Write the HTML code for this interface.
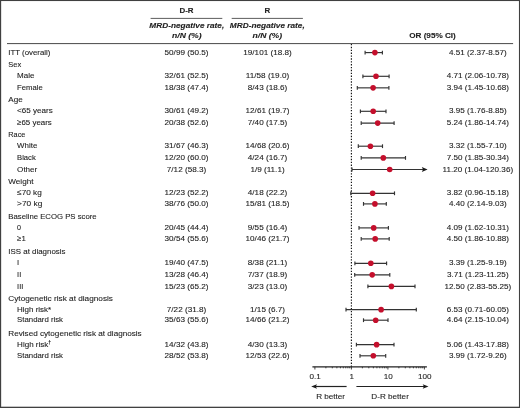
<!DOCTYPE html>
<html><head><meta charset="utf-8"><title>Forest plot</title>
<style>
html,body{margin:0;padding:0;background:#fff;}
body{width:520px;height:408px;overflow:hidden;}
svg{display:block;will-change:transform;transform:translateZ(0);}
text{font-family:"Liberation Sans",sans-serif;fill:#222;stroke:#222;stroke-width:0.1px;}
</style></head><body>
<svg width="520" height="408" viewBox="0 0 520 408">
<rect x="0" y="0" width="520" height="408" fill="#fff"/>
<g fill="#404040"><rect x="0" y="0" width="1.15" height="408"/><rect x="0" y="0" width="520" height="1.05"/><rect x="518.95" y="0" width="1.05" height="408"/><rect x="0" y="406.7" width="520" height="1.3"/></g>

<g font-weight="bold" font-size="7.5" style="stroke-width:0.2px;fill:#161616;stroke:#161616">
<text transform="translate(186.50 13.30) scale(1.06 1)" text-anchor="middle" >D-R</text>
<text transform="translate(267.30 13.30) scale(1.06 1)" text-anchor="middle" >R</text>
<text transform="translate(432.50 38.30) scale(1.09 1)" text-anchor="middle" >OR (95% CI)</text>
</g>
<g font-weight="bold" font-style="italic" font-size="7.3" style="stroke-width:0.2px;fill:#161616;stroke:#161616">
<text transform="translate(186.80 28.00) scale(1.135 1)" text-anchor="middle" >MRD-negative rate,</text>
<text transform="translate(186.80 37.60) scale(1.18 1)" text-anchor="middle" >n/N (%)</text>
<text transform="translate(267.30 28.00) scale(1.135 1)" text-anchor="middle" >MRD-negative rate,</text>
<text transform="translate(267.30 37.60) scale(1.18 1)" text-anchor="middle" >n/N (%)</text>
</g>
<g stroke="#333" stroke-width="0.8" fill="none">
<line x1="150.6" y1="18.4" x2="222.3" y2="18.4"/>
<line x1="231.7" y1="18.4" x2="302.9" y2="18.4"/>
<line x1="7" y1="43.6" x2="513.1" y2="43.6" stroke-width="0.9"/>
</g>
<line x1="351.4" y1="44" x2="351.4" y2="366.8" stroke="#111" stroke-width="1.15" stroke-dasharray="1.35,1.52"/>
<g font-size="8.1">
<text transform="translate(8.30 54.70) scale(0.97 1)" text-anchor="start" >ITT (overall)</text>
<text transform="translate(186.50 54.70) scale(1.006 1)" text-anchor="middle" >50/99 (50.5)</text>
<text transform="translate(267.50 54.70) scale(1.006 1)" text-anchor="middle" >19/101 (18.8)</text>
<text transform="translate(477.80 54.70) scale(1.002 1)" text-anchor="middle" >4.51 (2.37-8.57)</text>
<text transform="translate(8.30 66.90) scale(0.925 1)" text-anchor="start" >Sex</text>
<text transform="translate(17.10 78.40) scale(0.995 1)" text-anchor="start" >Male</text>
<text transform="translate(186.50 78.40) scale(1.006 1)" text-anchor="middle" >32/61 (52.5)</text>
<text transform="translate(267.50 78.40) scale(1.006 1)" text-anchor="middle" >11/58 (19.0)</text>
<text transform="translate(477.80 78.40) scale(1.002 1)" text-anchor="middle" >4.71 (2.06-10.78)</text>
<text transform="translate(17.10 89.95) scale(0.951 1)" text-anchor="start" >Female</text>
<text transform="translate(186.50 89.95) scale(1.006 1)" text-anchor="middle" >18/38 (47.4)</text>
<text transform="translate(267.50 89.95) scale(1.006 1)" text-anchor="middle" >8/43 (18.6)</text>
<text transform="translate(477.80 89.95) scale(1.002 1)" text-anchor="middle" >3.94 (1.45-10.68)</text>
<text transform="translate(8.30 102.00) scale(1.002 1)" text-anchor="start" >Age</text>
<text transform="translate(17.10 113.40) scale(0.997 1)" text-anchor="start" >&lt;65 years</text>
<text transform="translate(186.50 113.40) scale(1.006 1)" text-anchor="middle" >30/61 (49.2)</text>
<text transform="translate(267.50 113.40) scale(1.006 1)" text-anchor="middle" >12/61 (19.7)</text>
<text transform="translate(477.80 113.40) scale(1.002 1)" text-anchor="middle" >3.95 (1.76-8.85)</text>
<text transform="translate(17.10 125.20) scale(0.978 1)" text-anchor="start" >≥65 years</text>
<text transform="translate(186.50 125.20) scale(1.006 1)" text-anchor="middle" >20/38 (52.6)</text>
<text transform="translate(267.50 125.20) scale(1.006 1)" text-anchor="middle" >7/40 (17.5)</text>
<text transform="translate(477.80 125.20) scale(1.002 1)" text-anchor="middle" >5.24 (1.86-14.74)</text>
<text transform="translate(8.30 137.00) scale(0.902 1)" text-anchor="start" >Race</text>
<text transform="translate(17.10 148.30) scale(0.977 1)" text-anchor="start" >White</text>
<text transform="translate(186.50 148.30) scale(1.006 1)" text-anchor="middle" >31/67 (46.3)</text>
<text transform="translate(267.50 148.30) scale(1.006 1)" text-anchor="middle" >14/68 (20.6)</text>
<text transform="translate(477.80 148.30) scale(1.002 1)" text-anchor="middle" >3.32 (1.55-7.10)</text>
<text transform="translate(17.10 160.00) scale(0.94 1)" text-anchor="start" >Black</text>
<text transform="translate(186.50 160.00) scale(1.006 1)" text-anchor="middle" >12/20 (60.0)</text>
<text transform="translate(267.50 160.00) scale(1.006 1)" text-anchor="middle" >4/24 (16.7)</text>
<text transform="translate(477.80 160.00) scale(1.002 1)" text-anchor="middle" >7.50 (1.85-30.34)</text>
<text transform="translate(17.10 171.60) scale(0.998 1)" text-anchor="start" >Other</text>
<text transform="translate(186.50 171.60) scale(1.006 1)" text-anchor="middle" >7/12 (58.3)</text>
<text transform="translate(267.50 171.60) scale(1.006 1)" text-anchor="middle" >1/9 (11.1)</text>
<text transform="translate(477.80 171.60) scale(1.002 1)" text-anchor="middle" >11.20 (1.04-120.36)</text>
<text transform="translate(8.30 183.60) scale(1.007 1)" text-anchor="start" >Weight</text>
<text transform="translate(17.10 195.40) scale(1.02 1)" text-anchor="start" >≤70 kg</text>
<text transform="translate(186.50 195.40) scale(1.006 1)" text-anchor="middle" >12/23 (52.2)</text>
<text transform="translate(267.50 195.40) scale(1.006 1)" text-anchor="middle" >4/18 (22.2)</text>
<text transform="translate(477.80 195.40) scale(1.002 1)" text-anchor="middle" >3.82 (0.96-15.18)</text>
<text transform="translate(17.10 206.00) scale(1.028 1)" text-anchor="start" >&gt;70 kg</text>
<text transform="translate(186.50 206.00) scale(1.006 1)" text-anchor="middle" >38/76 (50.0)</text>
<text transform="translate(267.50 206.00) scale(1.006 1)" text-anchor="middle" >15/81 (18.5)</text>
<text transform="translate(477.80 206.00) scale(1.002 1)" text-anchor="middle" >4.40 (2.14-9.03)</text>
<text transform="translate(8.30 219.00) scale(0.958 1)" text-anchor="start" >Baseline ECOG PS score</text>
<text transform="translate(17.10 230.00) scale(0.879 1)" text-anchor="start" >0</text>
<text transform="translate(186.50 230.00) scale(1.006 1)" text-anchor="middle" >20/45 (44.4)</text>
<text transform="translate(267.50 230.00) scale(1.006 1)" text-anchor="middle" >9/55 (16.4)</text>
<text transform="translate(477.80 230.00) scale(1.002 1)" text-anchor="middle" >4.09 (1.62-10.31)</text>
<text transform="translate(17.10 241.00) scale(0.968 1)" text-anchor="start" >≥1</text>
<text transform="translate(186.50 241.00) scale(1.006 1)" text-anchor="middle" >30/54 (55.6)</text>
<text transform="translate(267.50 241.00) scale(1.006 1)" text-anchor="middle" >10/46 (21.7)</text>
<text transform="translate(477.80 241.00) scale(1.002 1)" text-anchor="middle" >4.50 (1.86-10.88)</text>
<text transform="translate(8.30 254.40) scale(0.979 1)" text-anchor="start" >ISS at diagnosis</text>
<text transform="translate(17.10 265.40) scale(0.935 1)" text-anchor="start" >I</text>
<text transform="translate(186.50 265.40) scale(1.006 1)" text-anchor="middle" >19/40 (47.5)</text>
<text transform="translate(267.50 265.40) scale(1.006 1)" text-anchor="middle" >8/38 (21.1)</text>
<text transform="translate(477.80 265.40) scale(1.002 1)" text-anchor="middle" >3.39 (1.25-9.19)</text>
<text transform="translate(17.10 276.95) scale(0.912 1)" text-anchor="start" >II</text>
<text transform="translate(186.50 276.95) scale(1.006 1)" text-anchor="middle" >13/28 (46.4)</text>
<text transform="translate(267.50 276.95) scale(1.006 1)" text-anchor="middle" >7/37 (18.9)</text>
<text transform="translate(477.80 276.95) scale(1.002 1)" text-anchor="middle" >3.71 (1.23-11.25)</text>
<text transform="translate(17.10 288.50) scale(0.919 1)" text-anchor="start" >III</text>
<text transform="translate(186.50 288.50) scale(1.006 1)" text-anchor="middle" >15/23 (65.2)</text>
<text transform="translate(267.50 288.50) scale(1.006 1)" text-anchor="middle" >3/23 (13.0)</text>
<text transform="translate(477.80 288.50) scale(1.002 1)" text-anchor="middle" >12.50 (2.83-55.25)</text>
<text transform="translate(8.30 300.90) scale(1.016 1)" text-anchor="start" >Cytogenetic risk at diagnosis</text>
<text transform="translate(17.10 311.75) scale(0.985 1)" text-anchor="start" >High risk*</text>
<text transform="translate(186.50 311.75) scale(1.006 1)" text-anchor="middle" >7/22 (31.8)</text>
<text transform="translate(267.50 311.75) scale(1.006 1)" text-anchor="middle" >1/15 (6.7)</text>
<text transform="translate(477.80 311.75) scale(1.002 1)" text-anchor="middle" >6.53 (0.71-60.05)</text>
<text transform="translate(17.10 322.30) scale(0.964 1)" text-anchor="start" >Standard risk</text>
<text transform="translate(186.50 322.30) scale(1.006 1)" text-anchor="middle" >35/63 (55.6)</text>
<text transform="translate(267.50 322.30) scale(1.006 1)" text-anchor="middle" >14/66 (21.2)</text>
<text transform="translate(477.80 322.30) scale(1.002 1)" text-anchor="middle" >4.64 (2.15-10.04)</text>
<text transform="translate(8.30 335.50) scale(1.006 1)" text-anchor="start" >Revised cytogenetic risk at diagnosis</text>
<text transform="translate(17.10 346.75) scale(0.992 1)" text-anchor="start" >High risk<tspan dy='-2.3' font-size='5.2' font-weight='bold'>†</tspan></text>
<text transform="translate(186.50 346.75) scale(1.006 1)" text-anchor="middle" >14/32 (43.8)</text>
<text transform="translate(267.50 346.75) scale(1.006 1)" text-anchor="middle" >4/30 (13.3)</text>
<text transform="translate(477.80 346.75) scale(1.002 1)" text-anchor="middle" >5.06 (1.43-17.88)</text>
<text transform="translate(17.10 357.90) scale(0.964 1)" text-anchor="start" >Standard risk</text>
<text transform="translate(186.50 357.90) scale(1.006 1)" text-anchor="middle" >28/52 (53.8)</text>
<text transform="translate(267.50 357.90) scale(1.006 1)" text-anchor="middle" >12/53 (22.6)</text>
<text transform="translate(477.80 357.90) scale(1.002 1)" text-anchor="middle" >3.99 (1.72-9.26)</text>
</g>
<g stroke="#333" stroke-width="1.15" fill="none">
<line x1="365.1" y1="52.60" x2="382.4" y2="52.60"/>
<line x1="365.1" y1="50.70" x2="365.1" y2="54.50"/>
<line x1="382.4" y1="50.70" x2="382.4" y2="54.50"/>
<line x1="362.9" y1="76.30" x2="389.1" y2="76.30"/>
<line x1="362.9" y1="74.40" x2="362.9" y2="78.20"/>
<line x1="389.1" y1="74.40" x2="389.1" y2="78.20"/>
<line x1="357.3" y1="87.85" x2="388.9" y2="87.85"/>
<line x1="357.3" y1="85.95" x2="357.3" y2="89.75"/>
<line x1="388.9" y1="85.95" x2="388.9" y2="89.75"/>
<line x1="360.4" y1="111.30" x2="386.0" y2="111.30"/>
<line x1="360.4" y1="109.40" x2="360.4" y2="113.20"/>
<line x1="386.0" y1="109.40" x2="386.0" y2="113.20"/>
<line x1="361.2" y1="123.10" x2="394.1" y2="123.10"/>
<line x1="361.2" y1="121.20" x2="361.2" y2="125.00"/>
<line x1="394.1" y1="121.20" x2="394.1" y2="125.00"/>
<line x1="358.3" y1="146.20" x2="382.5" y2="146.20"/>
<line x1="358.3" y1="144.30" x2="358.3" y2="148.10"/>
<line x1="382.5" y1="144.30" x2="382.5" y2="148.10"/>
<line x1="361.2" y1="157.90" x2="405.5" y2="157.90"/>
<line x1="361.2" y1="156.00" x2="361.2" y2="159.80"/>
<line x1="405.5" y1="156.00" x2="405.5" y2="159.80"/>
<line x1="352.0" y1="169.50" x2="424.6" y2="169.50"/>
<line x1="352.0" y1="167.60" x2="352.0" y2="171.40"/>
<path d="M427.6 169.50 L421.8 167.10 L423.0 169.50 L421.8 171.90 Z" fill="#1a1a1a" stroke="none"/>
<line x1="350.8" y1="193.30" x2="394.5" y2="193.30"/>
<line x1="350.8" y1="191.40" x2="350.8" y2="195.20"/>
<line x1="394.5" y1="191.40" x2="394.5" y2="195.20"/>
<line x1="363.5" y1="203.90" x2="386.3" y2="203.90"/>
<line x1="363.5" y1="202.00" x2="363.5" y2="205.80"/>
<line x1="386.3" y1="202.00" x2="386.3" y2="205.80"/>
<line x1="359.0" y1="227.90" x2="388.4" y2="227.90"/>
<line x1="359.0" y1="226.00" x2="359.0" y2="229.80"/>
<line x1="388.4" y1="226.00" x2="388.4" y2="229.80"/>
<line x1="361.2" y1="238.90" x2="389.2" y2="238.90"/>
<line x1="361.2" y1="237.00" x2="361.2" y2="240.80"/>
<line x1="389.2" y1="237.00" x2="389.2" y2="240.80"/>
<line x1="354.9" y1="263.30" x2="386.6" y2="263.30"/>
<line x1="354.9" y1="261.40" x2="354.9" y2="265.20"/>
<line x1="386.6" y1="261.40" x2="386.6" y2="265.20"/>
<line x1="354.7" y1="274.85" x2="389.8" y2="274.85"/>
<line x1="354.7" y1="272.95" x2="354.7" y2="276.75"/>
<line x1="389.8" y1="272.95" x2="389.8" y2="276.75"/>
<line x1="367.9" y1="286.40" x2="415.0" y2="286.40"/>
<line x1="367.9" y1="284.50" x2="367.9" y2="288.30"/>
<line x1="415.0" y1="284.50" x2="415.0" y2="288.30"/>
<line x1="346.0" y1="309.65" x2="416.3" y2="309.65"/>
<line x1="346.0" y1="307.75" x2="346.0" y2="311.55"/>
<line x1="416.3" y1="307.75" x2="416.3" y2="311.55"/>
<line x1="363.5" y1="320.20" x2="388.0" y2="320.20"/>
<line x1="363.5" y1="318.30" x2="363.5" y2="322.10"/>
<line x1="388.0" y1="318.30" x2="388.0" y2="322.10"/>
<line x1="356.4" y1="344.65" x2="394.0" y2="344.65"/>
<line x1="356.4" y1="342.75" x2="356.4" y2="346.55"/>
<line x1="394.0" y1="342.75" x2="394.0" y2="346.55"/>
<line x1="360.0" y1="355.80" x2="385.7" y2="355.80"/>
<line x1="360.0" y1="353.90" x2="360.0" y2="357.70"/>
<line x1="385.7" y1="353.90" x2="385.7" y2="357.70"/>
</g>
<g fill="#c40f2c" stroke="none">
<circle cx="374.9" cy="52.60" r="2.8"/>
<circle cx="376.0" cy="76.30" r="2.8"/>
<circle cx="373.1" cy="87.85" r="2.8"/>
<circle cx="373.2" cy="111.30" r="2.8"/>
<circle cx="377.7" cy="123.10" r="2.8"/>
<circle cx="370.4" cy="146.20" r="2.8"/>
<circle cx="383.3" cy="157.90" r="2.8"/>
<circle cx="389.7" cy="169.50" r="2.8"/>
<circle cx="372.6" cy="193.30" r="2.8"/>
<circle cx="374.9" cy="203.90" r="2.8"/>
<circle cx="373.7" cy="227.90" r="2.8"/>
<circle cx="375.2" cy="238.90" r="2.8"/>
<circle cx="370.8" cy="263.30" r="2.8"/>
<circle cx="372.2" cy="274.85" r="2.8"/>
<circle cx="391.4" cy="286.40" r="2.8"/>
<circle cx="381.1" cy="309.65" r="2.8"/>
<circle cx="375.7" cy="320.20" r="2.8"/>
<circle cx="376.6" cy="344.65" r="2.8"/>
<circle cx="373.3" cy="355.80" r="2.8"/>
</g>
<g stroke="#222" stroke-width="1.2" fill="none">
<line x1="312.4" y1="366.9" x2="426.9" y2="366.9"/>
<line x1="314.90" y1="366.9" x2="314.90" y2="369.5" stroke-width="0.85"/>
<line x1="325.89" y1="366.9" x2="325.89" y2="368.29999999999995" stroke-width="0.85"/>
<line x1="332.31" y1="366.9" x2="332.31" y2="368.29999999999995" stroke-width="0.85"/>
<line x1="336.88" y1="366.9" x2="336.88" y2="368.29999999999995" stroke-width="0.85"/>
<line x1="340.41" y1="366.9" x2="340.41" y2="368.29999999999995" stroke-width="0.85"/>
<line x1="343.30" y1="366.9" x2="343.30" y2="368.29999999999995" stroke-width="0.85"/>
<line x1="345.75" y1="366.9" x2="345.75" y2="368.29999999999995" stroke-width="0.85"/>
<line x1="347.86" y1="366.9" x2="347.86" y2="368.29999999999995" stroke-width="0.85"/>
<line x1="349.73" y1="366.9" x2="349.73" y2="368.29999999999995" stroke-width="0.85"/>
<line x1="351.40" y1="366.9" x2="351.40" y2="369.5" stroke-width="0.85"/>
<line x1="362.39" y1="366.9" x2="362.39" y2="368.29999999999995" stroke-width="0.85"/>
<line x1="368.81" y1="366.9" x2="368.81" y2="368.29999999999995" stroke-width="0.85"/>
<line x1="373.38" y1="366.9" x2="373.38" y2="368.29999999999995" stroke-width="0.85"/>
<line x1="376.91" y1="366.9" x2="376.91" y2="368.29999999999995" stroke-width="0.85"/>
<line x1="379.80" y1="366.9" x2="379.80" y2="368.29999999999995" stroke-width="0.85"/>
<line x1="382.25" y1="366.9" x2="382.25" y2="368.29999999999995" stroke-width="0.85"/>
<line x1="384.36" y1="366.9" x2="384.36" y2="368.29999999999995" stroke-width="0.85"/>
<line x1="386.23" y1="366.9" x2="386.23" y2="368.29999999999995" stroke-width="0.85"/>
<line x1="387.90" y1="366.9" x2="387.90" y2="369.5" stroke-width="0.85"/>
<line x1="398.89" y1="366.9" x2="398.89" y2="368.29999999999995" stroke-width="0.85"/>
<line x1="405.31" y1="366.9" x2="405.31" y2="368.29999999999995" stroke-width="0.85"/>
<line x1="409.88" y1="366.9" x2="409.88" y2="368.29999999999995" stroke-width="0.85"/>
<line x1="413.41" y1="366.9" x2="413.41" y2="368.29999999999995" stroke-width="0.85"/>
<line x1="416.30" y1="366.9" x2="416.30" y2="368.29999999999995" stroke-width="0.85"/>
<line x1="418.75" y1="366.9" x2="418.75" y2="368.29999999999995" stroke-width="0.85"/>
<line x1="420.86" y1="366.9" x2="420.86" y2="368.29999999999995" stroke-width="0.85"/>
<line x1="422.73" y1="366.9" x2="422.73" y2="368.29999999999995" stroke-width="0.85"/>
<line x1="424.40" y1="366.9" x2="424.40" y2="369.5" stroke-width="0.85"/>
<line x1="315.5" y1="386.5" x2="346.6" y2="386.5"/>
<line x1="356.4" y1="386.5" x2="424.2" y2="386.5"/>
</g>
<path d="M311.2 386.5 L317 384.2 L315.8 386.5 L317 388.8 Z" fill="#1a1a1a"/>
<path d="M428.5 386.5 L422.7 384.2 L423.9 386.5 L422.7 388.8 Z" fill="#1a1a1a"/>
<g font-size="8.1">
<text transform="translate(315.20 379.30) scale(1.0 1)" text-anchor="middle" >0.1</text>
<text transform="translate(351.70 379.30) scale(1.0 1)" text-anchor="middle" >1</text>
<text transform="translate(388.20 379.30) scale(1.0 1)" text-anchor="middle" >10</text>
<text transform="translate(424.70 379.30) scale(1.0 1)" text-anchor="middle" >100</text>
<text transform="translate(330.60 399.10) scale(1.006 1)" text-anchor="middle" >R better</text>
<text transform="translate(390.10 399.10) scale(1.006 1)" text-anchor="middle" >D-R better</text>
</g>
</svg></body></html>
